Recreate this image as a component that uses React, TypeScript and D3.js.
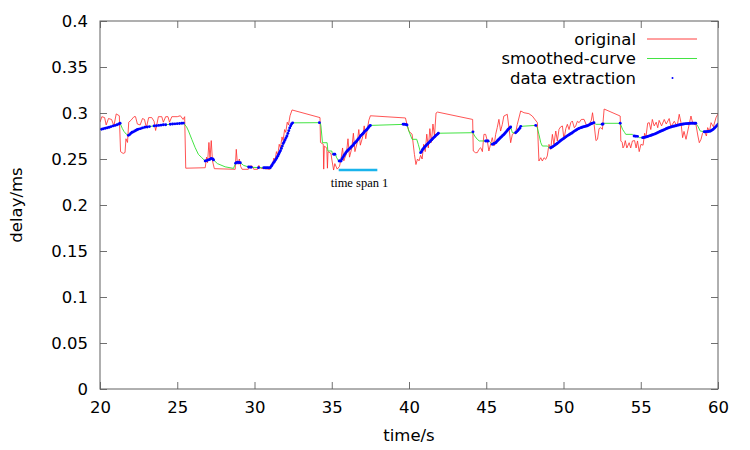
import React, { useRef, useEffect } from "react"
import * as d3 from "d3"

// raw delay samples [time s, delay ms]
const original: [number, number][] = [
	[20.0, 0.29], [20.12, 0.296], [20.3, 0.295], [20.4, 0.287], [20.55, 0.294], [20.75, 0.293], [20.9, 0.286],
	[21.05, 0.299], [21.25, 0.297], [21.33, 0.258], [21.5, 0.256], [21.62, 0.257], [21.68, 0.272], [21.78, 0.268],
	[21.86, 0.29], [22.0, 0.292], [22.2, 0.296], [22.3, 0.296], [22.42, 0.288], [22.6, 0.287], [22.75, 0.294],
	[22.88, 0.293], [23.0, 0.284], [23.15, 0.295], [23.35, 0.295], [23.5, 0.291], [23.6, 0.281], [23.78, 0.296],
	[24.0, 0.296], [24.1, 0.29], [24.25, 0.296], [24.4, 0.296], [24.5, 0.29], [24.65, 0.296], [25.0, 0.296],
	[25.2, 0.297], [25.38, 0.293], [25.48, 0.296], [25.55, 0.24],
	[26.81, 0.2405], [26.9, 0.252], [26.96, 0.246], [27.05, 0.268], [27.12, 0.25], [27.2, 0.27], [27.28, 0.248],
	[27.4, 0.2395], [28.75, 0.2388], [28.82, 0.2605], [28.88, 0.248], [28.94, 0.2442], [29.02, 0.25], [29.1, 0.242],
	[29.2, 0.2388], [29.6, 0.2388], [29.7, 0.2424], [29.85, 0.2424], [29.95, 0.2388], [30.2, 0.2388], [30.28, 0.243],
	[30.4, 0.24], [31.0, 0.2388],
	[31.08, 0.2442], [31.15, 0.243], [31.25, 0.251], [31.32, 0.248], [31.42, 0.258], [31.5, 0.254], [31.6, 0.266],
	[31.68, 0.262], [31.78, 0.274], [31.85, 0.27], [31.95, 0.282], [32.02, 0.279], [32.12, 0.29], [32.2, 0.287],
	[32.3, 0.297], [32.43, 0.3033], [34.24, 0.295],
	[34.27, 0.268], [34.45, 0.266], [34.48, 0.239], [34.52, 0.264], [34.68, 0.262], [34.72, 0.24], [34.76, 0.258],
	[34.95, 0.256], [35.0, 0.25], [35.12, 0.238], [35.2, 0.245], [35.35, 0.239], [35.5, 0.242], [35.6, 0.25],
	[35.7, 0.262], [35.78, 0.248], [35.95, 0.256], [36.05, 0.272], [36.15, 0.252], [36.3, 0.262], [36.4, 0.278],
	[36.5, 0.258], [36.65, 0.268], [36.75, 0.282], [36.85, 0.265], [37.0, 0.274], [37.1, 0.286], [37.2, 0.272],
	[37.3, 0.282], [37.4, 0.292], [37.5, 0.297], [39.77, 0.2946],
	[39.85, 0.289], [40.0, 0.28], [40.2, 0.277], [40.35, 0.255], [40.45, 0.244], [40.55, 0.25], [40.65, 0.248],
	[40.75, 0.254], [40.85, 0.25], [40.95, 0.266], [41.05, 0.258], [41.15, 0.277], [41.25, 0.262], [41.35, 0.283],
	[41.45, 0.268], [41.55, 0.288], [41.65, 0.275], [41.75, 0.3], [41.85, 0.301], [44.12, 0.293],
	[44.16, 0.2587], [44.3, 0.2569], [44.42, 0.2569], [44.53, 0.2605], [44.64, 0.2623], [44.75, 0.258],
	[44.85, 0.2768], [44.96, 0.2768], [45.07, 0.2696], [45.17, 0.2587], [45.28, 0.2659], [45.39, 0.2732],
	[45.5, 0.2641], [45.61, 0.2768], [45.71, 0.2841], [45.82, 0.2931], [45.93, 0.2804], [46.04, 0.2877],
	[46.14, 0.2967], [46.36, 0.2986], [46.47, 0.2841], [46.58, 0.2677], [46.69, 0.2768], [46.8, 0.278],
	[46.9, 0.2786], [47.01, 0.2877], [47.23, 0.3022], [47.44, 0.3003], [47.76, 0.2993], [47.98, 0.2967],
	[48.31, 0.2895],
	[48.41, 0.2478], [48.53, 0.2514], [48.63, 0.2478], [48.74, 0.2514], [48.85, 0.2496], [48.95, 0.2533],
	[49.06, 0.2659], [49.17, 0.2605], [49.28, 0.2768], [49.38, 0.2659], [49.5, 0.2804], [49.6, 0.2696],
	[49.71, 0.2823], [49.82, 0.285], [49.93, 0.2859], [50.03, 0.2714], [50.15, 0.283], [50.25, 0.2877],
	[50.36, 0.282], [50.47, 0.2895],
	[50.57, 0.2913], [50.7, 0.284], [50.79, 0.2859], [50.9, 0.291], [51.01, 0.2895], [51.15, 0.293], [51.33, 0.2931],
	[51.5, 0.286], [51.66, 0.2877], [51.8, 0.292], [51.88, 0.3003], [51.98, 0.2877], [52.1, 0.27], [52.2, 0.2714],
	[52.3, 0.283], [52.41, 0.2841], [52.52, 0.2823], [52.63, 0.3043], [53.67, 0.2967],
	[53.71, 0.2696], [53.8, 0.268], [53.85, 0.262], [53.92, 0.2641], [54.0, 0.27], [54.1, 0.262], [54.25, 0.2677],
	[54.35, 0.262], [54.46, 0.2696], [54.6, 0.27], [54.7, 0.262], [54.79, 0.2696], [54.9, 0.258], [55.01, 0.2659],
	[55.15, 0.265], [55.25, 0.278], [55.33, 0.2732], [55.45, 0.289], [55.55, 0.2895], [55.65, 0.282], [55.75, 0.293],
	[55.87, 0.286], [56.0, 0.29], [56.1, 0.284], [56.19, 0.292], [56.35, 0.286], [56.52, 0.293], [56.65, 0.288],
	[56.84, 0.294], [56.95, 0.285], [57.17, 0.291], [57.3, 0.287], [57.39, 0.289], [57.49, 0.2986], [57.6, 0.29],
	[57.71, 0.2732], [57.8, 0.28], [57.93, 0.2714], [58.1, 0.285], [58.25, 0.2967], [58.35, 0.29], [58.46, 0.2877],
	[58.57, 0.2877], [58.7, 0.275], [58.79, 0.2677], [58.9, 0.2714], [59.0, 0.278], [59.11, 0.2804], [59.25, 0.275],
	[59.33, 0.2841], [59.45, 0.28], [59.55, 0.2895], [59.7, 0.285], [59.87, 0.2949], [60.0, 0.299],
]

// smoothed curve
const smoothed: [number, number][] = [
	[20.0, 0.282], [20.3, 0.2835], [20.6, 0.2845], [20.9, 0.286], [21.3, 0.2888], [21.45, 0.283], [21.55, 0.28],
	[21.7, 0.277], [21.84, 0.2757], [22.0, 0.278], [22.2, 0.2798], [22.5, 0.2825], [23.0, 0.2848], [23.5, 0.286],
	[24.0, 0.2868], [24.5, 0.2877], [25.0, 0.2884], [25.4, 0.289], [25.6, 0.285], [25.73, 0.2804], [25.94, 0.2714],
	[26.16, 0.2623], [26.37, 0.255], [26.59, 0.2514], [26.81, 0.2478], [27.0, 0.249], [27.2, 0.2505], [27.35, 0.249],
	[27.6, 0.245], [28.1, 0.2415], [28.64, 0.2398], [28.78, 0.2455], [28.93, 0.2465], [29.08, 0.246], [29.3, 0.243],
	[29.62, 0.2413], [29.8, 0.241], [30.26, 0.2406], [30.6, 0.2405], [31.02, 0.2405], [31.26, 0.2466],
	[31.5, 0.253], [31.74, 0.2615], [31.98, 0.271], [32.22, 0.2808], [32.47, 0.2893], [34.26, 0.2895],
	[34.3, 0.286], [34.4, 0.2677], [34.7, 0.2677], [34.75, 0.2587], [35.0, 0.2587], [35.05, 0.2551],
	[35.25, 0.2551], [35.3, 0.252], [35.45, 0.2478], [35.6, 0.2478], [35.9, 0.2565], [36.2, 0.262],
	[36.5, 0.2675], [36.8, 0.2735], [37.1, 0.2793], [37.34, 0.2835], [37.5, 0.2865], [39.77, 0.2877],
	[39.87, 0.287], [39.99, 0.2804], [40.2, 0.2714], [40.5, 0.2714], [40.6, 0.266], [40.75, 0.2569],
	[40.99, 0.2625], [41.29, 0.2678], [41.59, 0.273], [41.9, 0.278], [44.14, 0.2786], [44.25, 0.275],
	[44.42, 0.2714], [44.55, 0.2696], [45.17, 0.2696], [45.28, 0.2677], [45.39, 0.2659], [45.69, 0.2692],
	[45.99, 0.2742], [46.29, 0.2795], [46.58, 0.2848], [46.69, 0.2786], [46.9, 0.2786], [47.1, 0.282],
	[47.23, 0.2855], [48.2, 0.2865], [48.3, 0.2841], [48.41, 0.2768], [48.53, 0.2677], [48.63, 0.2641],
	[48.95, 0.2641], [49.06, 0.2623], [49.17, 0.2623], [49.59, 0.2669], [50.01, 0.2724], [50.43, 0.2771],
	[50.85, 0.2818], [51.27, 0.2849], [51.62, 0.2868], [51.97, 0.2895], [52.1, 0.2877], [52.5, 0.2877],
	[52.63, 0.2888], [53.67, 0.2888], [53.82, 0.2823], [53.95, 0.279], [54.03, 0.2768], [54.46, 0.2768],
	[54.57, 0.275], [54.79, 0.2746], [54.9, 0.2732], [55.12, 0.2732], [55.6, 0.2754], [56.08, 0.2785],
	[56.56, 0.2822], [57.04, 0.2852], [57.52, 0.2872], [58.0, 0.2885], [58.56, 0.2888], [58.7, 0.2855],
	[58.85, 0.2804], [59.11, 0.2797], [59.44, 0.28], [59.68, 0.2822], [59.84, 0.2848], [60.0, 0.2877],
]

// extracted points
const extracted: [number, number][] = [
	[20.1, 0.2823], [20.22, 0.2828], [20.35, 0.2835], [20.48, 0.284], [20.6, 0.2845], [20.72, 0.2852],
	[20.85, 0.286], [20.98, 0.2865], [21.1, 0.2872], [21.22, 0.288], [21.3, 0.2888],
	[21.84, 0.2757], [21.92, 0.2765], [22.0, 0.278], [22.08, 0.279], [22.16, 0.2795], [22.25, 0.2805],
	[22.34, 0.2812], [22.42, 0.282], [22.5, 0.2825], [22.62, 0.283], [22.75, 0.2838], [22.9, 0.2845],
	[23.05, 0.2848], [23.2, 0.2852], [23.5, 0.286], [23.65, 0.2862], [23.8, 0.2865], [23.95, 0.2868],
	[24.1, 0.2872], [24.25, 0.2873], [24.55, 0.2878], [24.7, 0.288], [24.85, 0.2882], [25.0, 0.2884],
	[25.15, 0.2886], [25.3, 0.2888], [25.4, 0.289],
	[26.81, 0.2478], [26.9, 0.2482], [27.0, 0.249], [27.1, 0.2495], [27.2, 0.2505], [27.3, 0.25], [27.35, 0.249],
	[28.78, 0.2455], [28.85, 0.2462], [28.93, 0.2465], [29.0, 0.2462], [29.08, 0.246],
	[29.62, 0.2413], [29.7, 0.2412], [29.78, 0.241], [30.26, 0.2406], [30.6, 0.2405], [30.7, 0.2405],
	[30.8, 0.2405], [30.9, 0.2405],
	[31.02, 0.2405], [31.08, 0.242], [31.14, 0.2435], [31.2, 0.2452], [31.26, 0.2466], [31.32, 0.248],
	[31.38, 0.2495], [31.44, 0.2512], [31.5, 0.253], [31.56, 0.255], [31.62, 0.257], [31.68, 0.259],
	[31.74, 0.2615], [31.8, 0.264], [31.86, 0.2668], [31.92, 0.2688], [31.98, 0.271], [32.04, 0.273],
	[32.1, 0.275], [32.16, 0.2778], [32.22, 0.2808], [32.28, 0.2838], [32.34, 0.2862], [32.4, 0.288],
	[32.47, 0.2893],
	[34.2, 0.2895],
	[35.13, 0.2551], [35.2, 0.2551], [35.48, 0.2478], [35.54, 0.248],
	[35.6, 0.2478], [35.66, 0.25], [35.72, 0.2518], [35.78, 0.2535], [35.84, 0.255], [35.9, 0.2565],
	[35.96, 0.258], [36.02, 0.259], [36.08, 0.26], [36.14, 0.261], [36.2, 0.262], [36.26, 0.263],
	[36.32, 0.264], [36.38, 0.265], [36.44, 0.2665], [36.5, 0.2675], [36.56, 0.2685], [36.62, 0.2695],
	[36.68, 0.271], [36.74, 0.2722], [36.8, 0.2735], [36.86, 0.275], [36.92, 0.276], [36.98, 0.277],
	[37.04, 0.278], [37.1, 0.2793], [37.16, 0.2803], [37.22, 0.2813], [37.28, 0.2822], [37.34, 0.2835],
	[37.4, 0.2848], [37.46, 0.2858], [37.5, 0.2865],
	[39.62, 0.2877], [39.7, 0.2877], [39.8, 0.2875], [39.87, 0.287],
	[40.75, 0.2569], [40.81, 0.258], [40.87, 0.26], [40.93, 0.2612], [40.99, 0.2625], [41.05, 0.2637],
	[41.11, 0.2648], [41.17, 0.2659], [41.23, 0.2668], [41.29, 0.2678], [41.35, 0.2688], [41.41, 0.27],
	[41.47, 0.271], [41.53, 0.272], [41.59, 0.273], [41.65, 0.274], [41.71, 0.275], [41.77, 0.276],
	[41.83, 0.2768], [41.9, 0.278],
	[44.14, 0.2795], [44.96, 0.2696], [45.04, 0.2696], [45.12, 0.2696],
	[45.39, 0.2659], [45.45, 0.2664], [45.51, 0.2668], [45.57, 0.2673], [45.63, 0.268], [45.69, 0.2692],
	[45.75, 0.2703], [45.81, 0.2713], [45.87, 0.2723], [45.93, 0.2733], [45.99, 0.2742], [46.05, 0.2752],
	[46.11, 0.2762], [46.17, 0.2772], [46.23, 0.2782], [46.29, 0.2795], [46.35, 0.2807], [46.41, 0.282],
	[46.47, 0.283], [46.53, 0.284], [46.58, 0.2848],
	[46.9, 0.2786], [46.97, 0.2795], [47.04, 0.2808], [47.1, 0.282], [47.17, 0.2835], [47.23, 0.2855],
	[48.2, 0.2865],
	[49.17, 0.2623], [49.24, 0.2628], [49.31, 0.2635], [49.38, 0.2643], [49.45, 0.2652], [49.52, 0.266],
	[49.59, 0.2669], [49.66, 0.2678], [49.73, 0.2688], [49.8, 0.2698], [49.87, 0.2707], [49.94, 0.2716],
	[50.01, 0.2724], [50.08, 0.2732], [50.15, 0.274], [50.22, 0.2749], [50.29, 0.2757], [50.36, 0.2764],
	[50.43, 0.2771], [50.5, 0.2778], [50.57, 0.2786], [50.64, 0.2795], [50.71, 0.2803], [50.78, 0.2811],
	[50.85, 0.2818], [50.92, 0.2825], [50.99, 0.2831], [51.06, 0.2836], [51.13, 0.2841], [51.2, 0.2845],
	[51.27, 0.2849], [51.34, 0.2852], [51.41, 0.2855], [51.48, 0.2858], [51.55, 0.2862], [51.62, 0.2868],
	[51.69, 0.2874], [51.76, 0.288], [51.83, 0.2886], [51.9, 0.289], [51.97, 0.2895],
	[52.5, 0.2877], [52.56, 0.288],
	[53.67, 0.2888],
	[54.57, 0.275], [54.68, 0.2748], [54.79, 0.2746],
	[55.12, 0.2732], [55.2, 0.2734], [55.28, 0.2737], [55.36, 0.274], [55.44, 0.2744], [55.52, 0.2749],
	[55.6, 0.2754], [55.68, 0.2758], [55.76, 0.2763], [55.84, 0.2768], [55.92, 0.2773], [56.0, 0.2779],
	[56.08, 0.2785], [56.16, 0.2792], [56.24, 0.2799], [56.32, 0.2805], [56.4, 0.281], [56.48, 0.2816],
	[56.56, 0.2822], [56.64, 0.2828], [56.72, 0.2834], [56.8, 0.2839], [56.88, 0.2844], [56.96, 0.2848],
	[57.04, 0.2852], [57.12, 0.2856], [57.2, 0.2859], [57.28, 0.2862], [57.36, 0.2866], [57.44, 0.2869],
	[57.52, 0.2872], [57.6, 0.2876], [57.68, 0.2878], [57.76, 0.288], [57.84, 0.2882], [57.92, 0.2884],
	[58.0, 0.2885], [58.08, 0.2886], [58.16, 0.2887], [58.24, 0.2888], [58.32, 0.2889], [58.4, 0.2889],
	[58.48, 0.2889], [58.56, 0.2888],
	[59.11, 0.2797], [59.2, 0.2797], [59.28, 0.2798], [59.36, 0.2799], [59.44, 0.28], [59.52, 0.2805],
	[59.6, 0.2812], [59.68, 0.2822], [59.76, 0.2835], [59.84, 0.2848], [59.92, 0.2862], [60.0, 0.2877],
]

const xTicks = [20, 25, 30, 35, 40, 45, 50, 55, 60]
const yTicks = [0, 0.05, 0.1, 0.15, 0.2, 0.25, 0.3, 0.35, 0.4]
const legendLabels = ["original", "smoothed-curve", "data extraction"]
const span = { label: "time span 1", from: 35.45, to: 37.95, value: 0.238 }

const W = 750
const H = 450
const margin = { left: 100, right: 32, top: 21, bottom: 61 }
const FONT = "'DejaVu Sans', sans-serif"
const RED = "#ff2a2a"
const GREEN = "#2ee02e"

const App: React.FunctionComponent = () => {
	const svgRef = useRef<SVGSVGElement>(null)

	useEffect(() => {
		const svg = d3.select(svgRef.current)
		svg.selectAll("*").remove()

		const x = d3.scaleLinear().domain([20, 60]).range([margin.left, W - margin.right])
		const y = d3.scaleLinear().domain([0, 0.4]).range([H - margin.bottom, margin.top])
		const [x0, x1] = x.range()
		const [y0, y1] = y.range()

		svg.append("defs")
			.append("clipPath")
			.attr("id", "plot-clip")
			.append("rect")
			.attr("x", x0)
			.attr("y", y1)
			.attr("width", x1 - x0)
			.attr("height", y0 - y1)

		// axes, ticks pointing inward and mirrored on top/right
		const tick = 7
		const styleAxis = (g: any) => {
			g.select(".domain").remove()
			g.selectAll("line").attr("stroke", "#707070")
			g.selectAll("text").attr("fill", "#000").attr("font-size", 16.5).attr("font-family", FONT)
		}
		svg.append("g")
			.attr("transform", `translate(0, ${y0})`)
			.call(d3.axisBottom(x).tickValues(xTicks).tickSize(-tick).tickPadding(12).tickFormat(d3.format("d")))
			.call(styleAxis)
		svg.append("g")
			.attr("transform", `translate(0, ${y1})`)
			.call(d3.axisTop(x).tickValues(xTicks).tickSize(-tick).tickFormat(() => ""))
			.call(styleAxis)
		svg.append("g")
			.attr("transform", `translate(${x0}, 0)`)
			.call(d3.axisLeft(y).tickValues(yTicks).tickSize(-tick).tickPadding(12).tickFormat((d) => String(+d)))
			.call(styleAxis)
		svg.append("g")
			.attr("transform", `translate(${x1}, 0)`)
			.call(d3.axisRight(y).tickValues(yTicks).tickSize(-tick).tickFormat(() => ""))
			.call(styleAxis)

		const plot = svg.append("g").attr("clip-path", "url(#plot-clip)")
		const line = d3
			.line<[number, number]>()
			.x((d) => x(d[0]))
			.y((d) => y(d[1]))

		plot.append("path")
			.attr("d", line(original))
			.attr("fill", "none")
			.attr("stroke", RED)
			.attr("stroke-width", 0.8)
		plot.append("path")
			.attr("d", line(smoothed))
			.attr("fill", "none")
			.attr("stroke", GREEN)
			.attr("stroke-width", 0.9)
		plot.selectAll(".pt")
			.data(extracted)
			.join("circle")
			.attr("cx", (d) => x(d[0]))
			.attr("cy", (d) => y(d[1]))
			.attr("r", 1.45)
			.attr("fill", "#0000ff")

		// span marker
		svg.append("line")
			.attr("x1", x(span.from))
			.attr("x2", x(span.to))
			.attr("y1", y(span.value))
			.attr("y2", y(span.value))
			.attr("stroke", "#1ab4ec")
			.attr("stroke-width", 2.5)
		svg.append("text")
			.attr("x", x(span.from) - 8)
			.attr("y", y(span.value) + 17)
			.attr("font-family", "'Liberation Serif', serif")
			.attr("font-size", 12.5)
			.text(span.label)

		// border
		svg.append("rect")
			.attr("x", x0)
			.attr("y", y1)
			.attr("width", x1 - x0)
			.attr("height", y0 - y1)
			.attr("fill", "none")
			.attr("stroke", "#606060")
			.attr("stroke-width", 1)

		// legend
		const legend = svg.append("g").attr("font-family", FONT).attr("font-size", 16.5)
		legendLabels.forEach((label, i) => {
			const ly = 39 + i * 19.5
			legend.append("text")
				.attr("x", 636)
				.attr("y", ly)
				.attr("dy", "0.35em")
				.attr("text-anchor", "end")
				.text(label)
			if (i < 2) {
				legend.append("line")
					.attr("x1", 647)
					.attr("x2", 697)
					.attr("y1", ly)
					.attr("y2", ly)
					.attr("stroke", i === 0 ? RED : GREEN)
					.attr("stroke-width", 0.9)
			} else {
				legend.append("circle").attr("cx", 672.5).attr("cy", ly).attr("r", 1).attr("fill", "#0000ff")
			}
		})

		// axis titles
		svg.append("text")
			.attr("x", (x0 + x1) / 2)
			.attr("y", 441)
			.attr("text-anchor", "middle")
			.attr("font-family", FONT)
			.attr("font-size", 16.5)
			.text("time/s")
		svg.append("text")
			.attr("transform", `translate(22, ${(y0 + y1) / 2}) rotate(-90)`)
			.attr("text-anchor", "middle")
			.attr("font-family", FONT)
			.attr("font-size", 16.5)
			.text("delay/ms")
	}, [])

	return (
		<div style={{ position: "absolute", left: 0, top: 0, width: W, height: H, background: "#fff" }}>
			<svg ref={svgRef} width={W} height={H}></svg>
		</div>
	)
}

export default App
